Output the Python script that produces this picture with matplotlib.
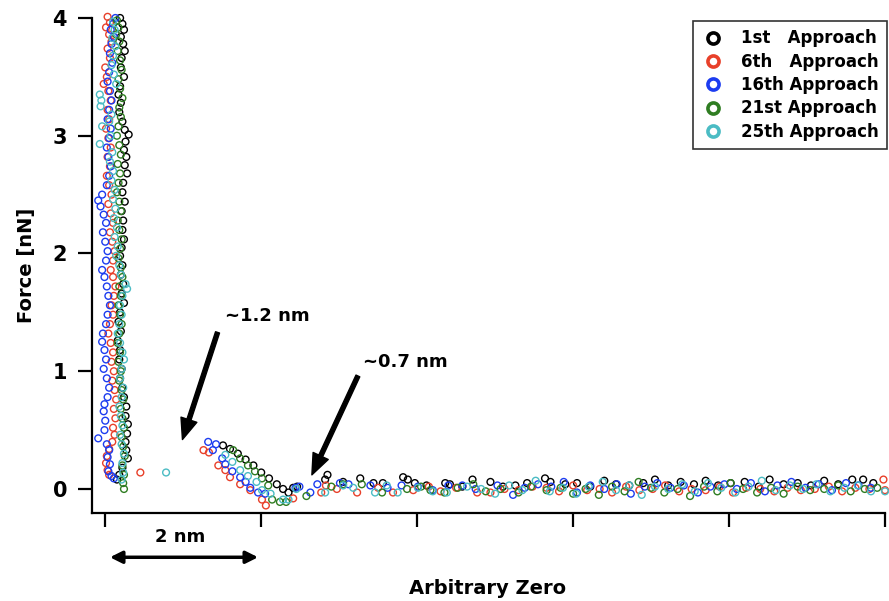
import matplotlib
matplotlib.use("Agg")
import matplotlib.pyplot as plt
from matplotlib.lines import Line2D

plt.rcParams['font.family'] = ['DejaVu Sans']
plt.rcParams['font.weight'] = 'bold'

labels = ["1st   Approach", "6th   Approach", "16th Approach", "21st Approach", "25th Approach"]
colors = ["#000000", "#e8402a", "#1c3cf0", "#2f7d22", "#4bbcc4"]

# ---- 1st approach (black)
black_x = [0.19, 0.22, 0.24, 0.20, 0.23, 0.25, 0.21, 0.20, 0.24, 0.19, 0.17, 0.20, 0.18, 0.22, 0.25,
           0.30, 0.26, 0.24, 0.27, 0.25, 0.28, 0.23, 0.22, 0.25, 0.21, 0.23, 0.22, 0.24, 0.21, 0.19,
           0.22, 0.20, 0.23, 0.21, 0.24, 0.19, 0.17, 0.20, 0.16, 0.19, 0.18, 0.21, 0.19, 0.22, 0.24,
           0.27, 0.26, 0.29, 0.28, 0.26, 0.27, 0.29, 0.22, 0.18, 0.15,
           1.51, 1.60, 1.70, 1.80, 1.90, 2.00, 2.10, 2.20, 2.28, 2.35,
           2.41, 2.46, 2.82, 2.85, 3.05, 3.27, 3.44, 3.56, 3.82, 3.88, 3.97, 4.12, 4.36, 4.42, 4.58,
           4.71, 4.94, 5.10, 5.26, 5.41, 5.64, 5.71, 5.90, 6.05, 6.22, 6.40, 6.55, 6.72, 6.90, 7.05,
           7.22, 7.38, 7.55, 7.70, 7.86, 8.02, 8.20, 8.38, 8.52, 8.70, 8.88, 9.05, 9.22, 9.40, 9.58,
           9.72, 9.85]
black_y = [4.00, 3.95, 3.90, 3.84, 3.78, 3.72, 3.66, 3.58, 3.50, 3.42, 3.35, 3.28, 3.20, 3.12, 3.05,
           3.01, 2.95, 2.88, 2.82, 2.75, 2.68, 2.60, 2.52, 2.44, 2.36, 2.28, 2.20, 2.12, 2.05, 1.98,
           1.90, 1.82, 1.74, 1.66, 1.58, 1.50, 1.42, 1.34, 1.26, 1.18, 1.10, 1.02, 0.94, 0.86, 0.78,
           0.70, 0.62, 0.55, 0.47, 0.40, 0.33, 0.26, 0.18, 0.12, 0.08,
           0.37, 0.34, 0.30, 0.25, 0.20, 0.14, 0.09, 0.04, 0.00, -0.03,
           0.01, 0.02, 0.08, 0.12, 0.06, 0.09, 0.05, 0.05, 0.10, 0.08, 0.05, 0.03, 0.05, 0.04, 0.02,
           0.08, 0.06, 0.02, 0.03, 0.05, 0.09, 0.06, 0.04, 0.05, 0.02, 0.07, 0.04, 0.03, 0.05, 0.08,
           0.03, 0.06, 0.04, 0.07, 0.03, 0.05, 0.06, 0.02, 0.08, 0.04, 0.05, 0.03, 0.07, 0.04, 0.08,
           0.08, 0.05]

# ---- 6th approach (red)
red_x = [0.03, 0.06, 0.01, 0.05, 0.08, 0.03, 0.06, 0.00, 0.02, -0.02, 0.04, 0.07, 0.03, 0.05, 0.01,
         0.04, 0.07, 0.03, 0.06, 0.02, 0.05, 0.08, 0.04, 0.07, 0.10, 0.06, 0.09, 0.12, 0.10, 0.07,
         0.10, 0.13, 0.11, 0.08, 0.10, 0.06, 0.04, 0.07, 0.10, 0.08, 0.11, 0.09, 0.12, 0.14, 0.11,
         0.13, 0.10, 0.12, 0.09, 0.05, 0.02, 0.01, 0.03, 0.05, 0.45,
         1.26, 1.33, 1.45, 1.54, 1.60, 1.73, 1.86, 2.01, 2.06,
         2.41, 2.77, 2.83, 2.97, 3.23, 3.50, 3.69, 3.95, 4.15, 4.30, 4.50, 4.77, 4.94, 5.12, 5.30,
         5.48, 5.66, 5.82, 6.00, 6.18, 6.34, 6.50, 6.68, 6.85, 7.02, 7.18, 7.36, 7.52, 7.70, 7.88,
         8.05, 8.22, 8.40, 8.58, 8.75, 8.92, 9.10, 9.28, 9.45, 9.62, 9.80, 9.98, 10.0]
red_y = [4.01, 3.96, 3.92, 3.86, 3.80, 3.74, 3.66, 3.58, 3.50, 3.44, 3.38, 3.30, 3.22, 3.14, 3.06,
         2.98, 2.90, 2.82, 2.74, 2.66, 2.58, 2.50, 2.42, 2.34, 2.26, 2.18, 2.10, 2.02, 1.94, 1.86,
         1.80, 1.72, 1.64, 1.56, 1.48, 1.40, 1.32, 1.24, 1.16, 1.08, 1.00, 0.92, 0.84, 0.76, 0.68,
         0.60, 0.52, 0.46, 0.40, 0.34, 0.28, 0.22, 0.16, 0.12, 0.14,
         0.33, 0.31, 0.20, 0.16, 0.10, 0.04, -0.01, -0.09, -0.14,
         -0.08, -0.03, 0.03, 0.00, -0.03, 0.01, -0.03, -0.01, 0.02, -0.02, 0.01, -0.03, -0.03, 0.00, -0.01,
         0.02, 0.01, -0.02, 0.03, -0.01, 0.00, -0.03, 0.02, -0.01, 0.00, 0.03, -0.02, 0.00, -0.01, 0.02,
         -0.03, 0.01, 0.00, -0.02, 0.01, -0.01, 0.00, 0.02, -0.02, 0.01, 0.00, 0.08, -0.01]

# ---- 16th approach (blue)
blue_x = [0.13, 0.10, 0.07, 0.11, 0.08, 0.06, 0.09, 0.05, 0.03, 0.06, 0.08, 0.05, 0.03, 0.07, 0.05,
          0.02, 0.04, 0.07, 0.05, 0.02, -0.04, -0.09, -0.06, -0.02, 0.01, -0.03, 0.00, 0.03, 0.01, -0.04,
          -0.01, 0.02, 0.04, 0.06, 0.03, 0.01, -0.03, -0.04, -0.01, 0.01, -0.02, 0.02, 0.05, 0.03, -0.01,
          -0.02, 0.00, -0.01, -0.09, 0.02, 0.05, 0.03, 0.06, 0.04, 0.08, 0.11,
          1.32, 1.42, 1.38, 1.50, 1.54, 1.63, 1.73, 1.80, 1.86, 1.96, 2.05,
          2.44, 2.49, 2.63, 2.72, 3.01, 3.12, 3.40, 3.62, 3.80, 4.01, 4.20, 4.40, 4.58, 4.75, 5.03,
          5.23, 5.38, 5.55, 5.72, 5.88, 6.05, 6.22, 6.40, 6.56, 6.74, 6.92, 7.08, 7.25, 7.42, 7.60,
          7.76, 7.94, 8.10, 8.28, 8.46, 8.62, 8.80, 8.98, 9.15, 9.32, 9.50, 9.66, 9.82]
blue_y = [4.00, 3.95, 3.90, 3.84, 3.78, 3.70, 3.62, 3.54, 3.46, 3.38, 3.30, 3.22, 3.14, 3.06, 2.98,
          2.90, 2.82, 2.74, 2.66, 2.58, 2.50, 2.45, 2.40, 2.33, 2.26, 2.18, 2.10, 2.02, 1.94, 1.86,
          1.80, 1.72, 1.64, 1.56, 1.48, 1.40, 1.32, 1.25, 1.18, 1.10, 1.02, 0.94, 0.86, 0.78, 0.72,
          0.66, 0.58, 0.50, 0.43, 0.38, 0.33, 0.27, 0.21, 0.15, 0.11, 0.09,
          0.40, 0.38, 0.33, 0.26, 0.21, 0.15, 0.10, 0.06, 0.01, -0.03, -0.04,
          0.01, 0.02, -0.03, 0.04, 0.05, 0.04, 0.03, 0.01, 0.03, 0.02, -0.01, 0.03, 0.03, 0.00, 0.03,
          -0.05, 0.01, 0.04, 0.02, 0.06, -0.03, 0.03, 0.00, 0.04, -0.04, 0.02, 0.05, 0.01, 0.03, -0.03,
          0.02, 0.04, 0.00, 0.05, -0.02, 0.03, 0.06, 0.01, 0.04, -0.01, 0.05, 0.03, 0.01]

# ---- 21st approach (green)
green_x = [0.15, 0.17, 0.14, 0.18, 0.16, 0.19, 0.21, 0.17, 0.19, 0.22, 0.18, 0.20, 0.17, 0.15, 0.18,
           0.20, 0.16, 0.19, 0.17, 0.15, 0.18, 0.20, 0.16, 0.18, 0.21, 0.19, 0.17, 0.20, 0.22, 0.18,
           0.20, 0.17, 0.19, 0.21, 0.18, 0.16, 0.19, 0.17, 0.20, 0.18, 0.21, 0.23, 0.20, 0.22, 0.24,
           0.21, 0.23, 0.25, 0.22, 0.24, 0.23, 0.24,
           1.64, 1.73, 1.83, 1.92, 2.01, 2.09, 2.14,
           2.24, 2.32, 2.58, 2.90, 3.05, 3.29, 3.55, 3.87, 4.05, 4.17, 4.35, 4.52, 4.72, 4.88, 5.07,
           5.30, 5.46, 5.66, 5.84, 6.00, 6.16, 6.33, 6.50, 6.66, 6.84, 7.00, 7.17, 7.34, 7.50, 7.68,
           7.85, 8.02, 8.18, 8.36, 8.54, 8.70, 8.88, 9.04, 9.22, 9.40, 9.56, 9.74, 9.90]
green_y = [3.98, 3.92, 3.86, 3.80, 3.72, 3.64, 3.56, 3.48, 3.40, 3.32, 3.24, 3.16, 3.08, 3.00, 2.92,
           2.84, 2.76, 2.68, 2.60, 2.52, 2.44, 2.36, 2.28, 2.20, 2.12, 2.04, 1.96, 1.88, 1.80, 1.72,
           1.64, 1.56, 1.48, 1.40, 1.32, 1.24, 1.16, 1.08, 1.00, 0.92, 0.84, 0.76, 0.68, 0.60, 0.52,
           0.44, 0.36, 0.28, 0.20, 0.12, 0.05, 0.00,
           0.33, 0.26, 0.20, 0.15, 0.09, 0.03, -0.09,
           -0.11, -0.11, -0.06, 0.02, 0.04, 0.04, -0.03, 0.00, 0.02, -0.01, -0.03, 0.01, 0.04, -0.02, 0.00,
           -0.03, 0.02, -0.01, 0.01, -0.04, 0.00, -0.05, 0.02, -0.02, 0.06, 0.01, -0.03, 0.00, -0.06, 0.02,
           -0.02, 0.05, 0.00, -0.03, 0.01, -0.04, 0.02, -0.01, 0.00, 0.03, -0.02, 0.00, 0.01]

# ---- 25th approach (cyan)
cyan_x = [0.10, 0.12, 0.09, 0.13, 0.10, 0.08, 0.11, 0.14, -0.07, -0.05, -0.06, 0.08, 0.05, -0.04, 0.07,
          -0.07, 0.09, 0.06, 0.10, 0.08, 0.12, 0.10, 0.13, 0.11, 0.15, 0.12, 0.16, 0.14, 0.18, 0.20,
          0.26, 0.28, 0.22, 0.19, 0.21, 0.18, 0.16, 0.19, 0.22, 0.24, 0.21, 0.19, 0.23, 0.21, 0.18,
          0.20, 0.22, 0.19, 0.21, 0.24, 0.22, 0.23, 0.21, 0.78,
          1.54, 1.63, 1.73, 1.83, 1.94, 2.01, 2.12, 2.28, 2.35,
          2.45, 2.82, 3.05, 3.18, 3.46, 3.61, 3.75, 4.01, 4.20, 4.38, 4.64, 4.82, 5.00, 5.18, 5.35,
          5.52, 5.70, 5.87, 6.04, 6.20, 6.38, 6.55, 6.72, 6.88, 7.05, 7.22, 7.40, 7.56, 7.73, 7.90,
          8.08, 8.25, 8.42, 8.60, 8.78, 8.95, 9.12, 9.30, 9.48, 9.65, 9.82, 10.0]
cyan_y = [3.97, 3.90, 3.83, 3.76, 3.68, 3.60, 3.52, 3.44, 3.35, 3.30, 3.25, 3.18, 3.12, 3.08, 3.00,
          2.93, 2.86, 2.78, 2.70, 2.62, 2.54, 2.46, 2.38, 2.30, 2.22, 2.14, 2.06, 1.98, 1.90, 1.82,
          1.74, 1.70, 1.64, 1.56, 1.48, 1.40, 1.32, 1.24, 1.16, 1.10, 1.02, 0.94, 0.86, 0.78, 0.70,
          0.62, 0.54, 0.46, 0.38, 0.30, 0.22, 0.14, 0.08, 0.14,
          0.29, 0.23, 0.16, 0.11, 0.06, -0.01, -0.04, -0.09, -0.09,
          0.00, -0.03, 0.03, 0.01, -0.03, 0.03, -0.03, 0.01, -0.02, -0.03, 0.02, 0.00, -0.04, 0.03, -0.01,
          0.07, -0.02, 0.01, -0.04, 0.02, 0.06, -0.01, 0.03, -0.05, 0.02, 0.00, 0.04, -0.02, 0.05, 0.01,
          -0.03, 0.02, 0.07, -0.01, 0.03, 0.00, 0.04, -0.02, 0.01, 0.03, -0.02, -0.02]

series = [(black_x, black_y), (red_x, red_y), (blue_x, blue_y), (green_x, green_y), (cyan_x, cyan_y)]

fig = plt.figure(figsize=(8.89, 6.01), dpi=100)
ax = fig.add_axes([92/889, 1 - 513/601, (885 - 92)/889, (513 - 18)/601])

for (xs, ys), col in zip(series, colors):
    ax.scatter(xs, ys, s=24, facecolors='none', edgecolors=col, linewidths=1.0, clip_on=False)

ax.set_xlim(-0.17, 10.0)
ax.set_ylim(-0.204, 4.0)
ax.set_xticks([0, 2, 4, 6, 8, 10])
ax.set_xticklabels([])
ax.set_yticks([0, 1, 2, 3, 4])
ax.tick_params(axis='both', direction='out', length=10, width=1.6, labelsize=15, pad=8)
for lab in ax.get_yticklabels():
    lab.set_fontweight('bold')
for side in ['top', 'right']:
    ax.spines[side].set_visible(False)
for side in ['left', 'bottom']:
    ax.spines[side].set_linewidth(1.6)

ax.set_ylabel("Force [nN]", fontsize=14, fontweight='bold', labelpad=12)
fig.text(488/889, 1 - 588/601, "Arbitrary Zero", fontsize=14, fontweight='bold',
         ha='center', va='center')

arrow_kw = dict(facecolor='black', edgecolor='black', width=3, headwidth=12, headlength=15)
ax.annotate("", xy=(0.99, 0.42), xytext=(1.44, 1.33), arrowprops=arrow_kw)
ax.text(1.54, 1.47, "~1.2 nm", fontsize=13, fontweight='bold', va='center', ha='left')
ax.annotate("", xy=(2.65, 0.12), xytext=(3.24, 0.96), arrowprops=arrow_kw)
ax.text(3.31, 1.08, "~0.7 nm", fontsize=13, fontweight='bold', va='center', ha='left')

ax.text(0.96, -0.41, "2 nm", fontsize=13, fontweight='bold', va='center', ha='center', clip_on=False)
ax.annotate("", xy=(0.06, -0.58), xytext=(1.96, -0.58), annotation_clip=False,
            arrowprops=dict(arrowstyle='<|-|>', color='black', lw=2.5, mutation_scale=18,
                            shrinkA=0, shrinkB=0))

handles = [Line2D([], [], linestyle='none', marker='o', markersize=8, markerfacecolor='none',
                  markeredgecolor=c, markeredgewidth=2.6) for c in colors]
leg = fig.legend(handles, labels, loc='upper left', bbox_to_anchor=(693/889, 1 - 21/601),
                 borderaxespad=0, frameon=True, fancybox=False, edgecolor='black',
                 handlelength=1.4, handletextpad=1.0, labelspacing=0.32, borderpad=0.5,
                 prop={'weight': 'bold', 'size': 12})
leg.get_frame().set_linewidth(1.2)

fig.savefig("out.png", dpi=100)
